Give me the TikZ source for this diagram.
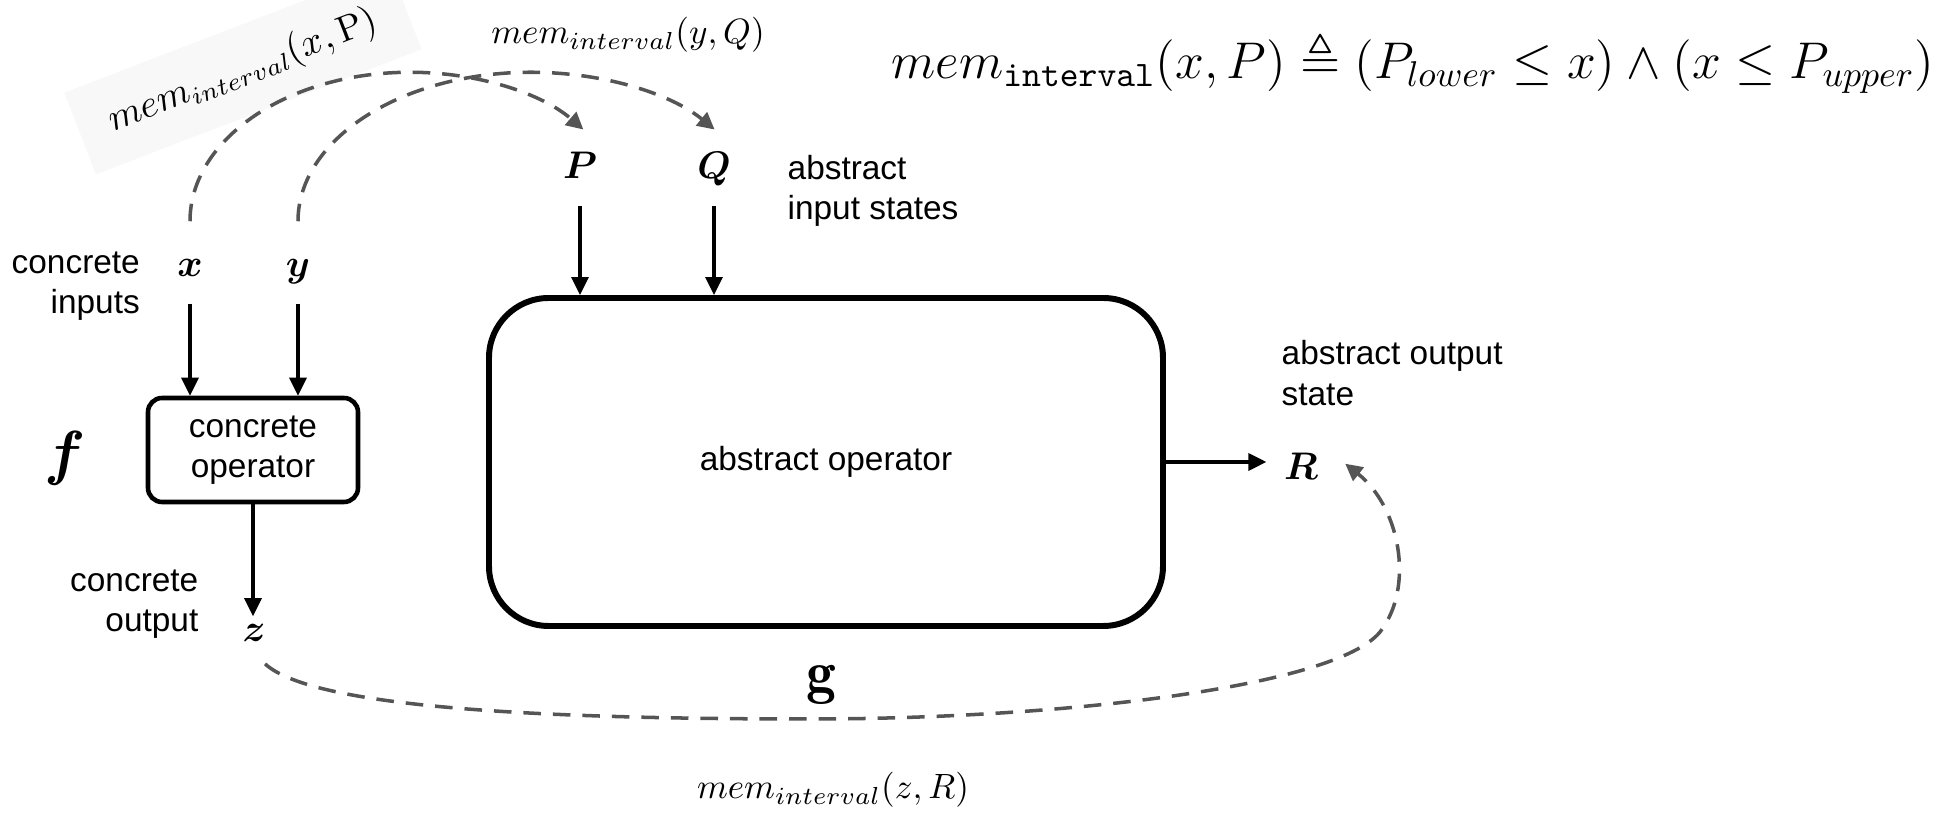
\documentclass[tikz,border=0pt]{standalone}
\usepackage{amsmath}
\usepackage{amssymb}
\usepackage{fontspec}
\setsansfont{Liberation Sans}
\usepackage{tikz}
\usetikzlibrary{arrows.meta,positioning,calc}
\definecolor{dashgray}{HTML}{555555}
\definecolor{tagshade}{HTML}{F8F8F8}

\begin{document}
\begin{tikzpicture}[
  op/.style={draw, rounded corners=4pt, line width=1.3pt, minimum width=2.1cm,
             minimum height=1.04cm, align=center, font=\sffamily\fontsize{9.5}{11.5}\selectfont},
  bigop/.style={draw, rounded corners=17pt, line width=1.7pt, minimum width=6.74cm,
                minimum height=3.28cm, font=\sffamily\fontsize{9.5}{11.5}\selectfont},
  var/.style={inner sep=2pt, text height=1.55ex, text depth=.3ex,
              font=\fontsize{11}{13}\selectfont},
  note/.style={inner sep=0pt, font=\sffamily\fontsize{9.5}{11.5}\selectfont},
  memlab/.style={inner sep=2pt, font=\fontsize{10.4}{12}\selectfont},
  flow/.style={-{Triangle[length=1.8mm,width=1.7mm]}, line width=0.95pt},
  mapsto/.style={-{Triangle[length=1.7mm,width=1.7mm]}, line width=1pt, draw=dashgray,
                 dash pattern=on 5pt off 3.4pt}
]
  \useasboundingbox (0,0) rectangle (19.5,8.17);
  % concrete side
  \node[var] (x) at (1.90,5.50) {$\boldsymbol{x}$};
  \node[var] (y) at (2.98,5.50) {$\boldsymbol{y}$};
  \node[note, anchor=east, align=right] (cin) at (1.405,5.31) {concrete\\inputs};
  \node[op] (cop) at (2.53,3.67) {concrete\\operator};
  \node[inner sep=0pt, font=\fontsize{18}{20}\selectfont] (f) at (0.65,3.59) {$\boldsymbol{f}$};
  \node[var] (z) at (2.54,1.85) {$\boldsymbol{z}$};
  \node[note, anchor=east, align=right] (cout) at (1.99,2.13) {concrete\\output};
  % abstract side
  \node[bigop] (aop) at (8.26,3.55) {abstract operator};
  \node[var] (P) at (5.80,6.48) {$\boldsymbol{P}$};
  \node[var] (Q) at (7.14,6.48) {$\boldsymbol{Q}$};
  \node[note, anchor=west, align=left] (ain) at (7.87,6.26) {abstract\\input states};
  \node[var] (R) at (13.01,3.47) {$\boldsymbol{R}$};
  \node[note, anchor=west, align=left] (aout) at (12.81,4.44) {abstract output\\state};
  % membership labels
  \node[memlab, fill=tagshade, rotate=21, inner xsep=9pt, inner ysep=7pt,
        font=\fontsize{10.5}{12}\selectfont] (mx) at (2.43,7.46)
    {$mem_{interval}(x,\mathrm{P})$};
  \node[memlab] (my) at (6.28,7.82) {$mem_{interval}(y,Q)$};
  \node[memlab] (mz) at (8.33,0.27) {$mem_{interval}(z,R)$};
  \node[inner sep=0pt, font=\fontsize{17}{19}\selectfont] (g) at (8.21,1.32) {$\mathbf{g}$};
  \node[inner sep=0pt, font=\fontsize{14.4}{17}\selectfont, scale=1.02] (def) at (14.13,7.55)
    {$mem_{\mathtt{interval}}(x,P) \triangleq (P_{lower} \leq x) \wedge (x \leq P_{upper})$};

  % solid flow
  \foreach \v in {x,y}{\draw[flow, shorten <=1.5mm] (\v.south) -- (\v.south |- cop.north);}
  \foreach \v in {P,Q}{\draw[flow, shorten <=1.5mm] (\v.south) -- (\v.south |- aop.north);}
  \draw[flow, shorten >=-0.6mm] (cop.south) -- (cop.south |- z.north);
  \draw[flow, shorten >=1mm] (aop.east) -- (aop.east -| R.west);

  % abstraction arcs
  \draw[mapsto] ([yshift=2.4mm]x.north) arc[start angle=180, end angle=38, x radius=2.2cm, y radius=1.49cm];
  \draw[mapsto] ([yshift=2.4mm]y.north) arc[start angle=180, end angle=38, x radius=2.33cm, y radius=1.49cm];
  \draw[mapsto, shorten <=1.5mm, shorten >=2.5mm] (z.south) .. controls +(0.6,-0.55) and (5.5,0.98) .. (8.1,0.98)
        .. controls (10.6,0.98) and (13.35,1.3) .. (13.8,1.85)
        .. controls (14.15,2.3) and (14.0,3.1) .. (R.north east);
\end{tikzpicture}
\end{document}
